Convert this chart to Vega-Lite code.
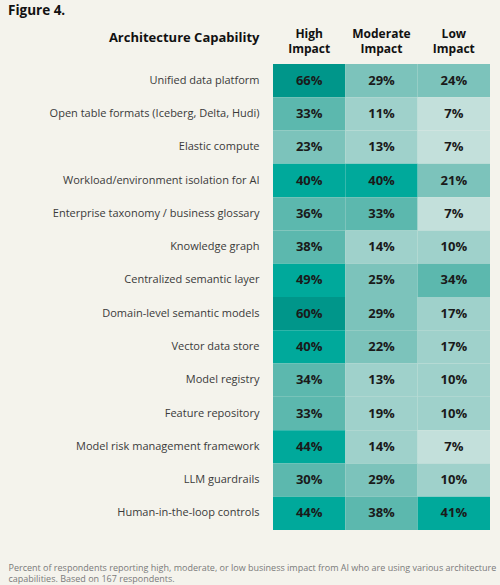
{
  "$schema": "https://vega.github.io/schema/vega-lite/v6.json",
  "width": 217,
  "height": 466,
  "autosize": {"type": "none"},
  "padding": {"left": 273, "top": 64, "right": 10, "bottom": 55},
  "background": "#f4f3ec",
  "config": {
    "font": "Open Sans",
    "view": {"stroke": null}
  },
  "title": {
    "text": "Figure 4.",
    "anchor": "start",
    "frame": "group",
    "dx": -265,
    "offset": 10,
    "fontSize": 13.5,
    "fontWeight": "bold",
    "color": "#111111"
  },
  "data": {
    "values": [
      {"capability": "Unified data platform", "impact": "High Impact", "share": 0.66},
      {"capability": "Unified data platform", "impact": "Moderate Impact", "share": 0.29},
      {"capability": "Unified data platform", "impact": "Low Impact", "share": 0.24},
      {"capability": "Open table formats (Iceberg, Delta, Hudi)", "impact": "High Impact", "share": 0.33},
      {"capability": "Open table formats (Iceberg, Delta, Hudi)", "impact": "Moderate Impact", "share": 0.11},
      {"capability": "Open table formats (Iceberg, Delta, Hudi)", "impact": "Low Impact", "share": 0.07},
      {"capability": "Elastic compute", "impact": "High Impact", "share": 0.23},
      {"capability": "Elastic compute", "impact": "Moderate Impact", "share": 0.13},
      {"capability": "Elastic compute", "impact": "Low Impact", "share": 0.07},
      {"capability": "Workload/environment isolation for AI", "impact": "High Impact", "share": 0.40},
      {"capability": "Workload/environment isolation for AI", "impact": "Moderate Impact", "share": 0.40},
      {"capability": "Workload/environment isolation for AI", "impact": "Low Impact", "share": 0.21},
      {"capability": "Enterprise taxonomy / business glossary", "impact": "High Impact", "share": 0.36},
      {"capability": "Enterprise taxonomy / business glossary", "impact": "Moderate Impact", "share": 0.33},
      {"capability": "Enterprise taxonomy / business glossary", "impact": "Low Impact", "share": 0.07},
      {"capability": "Knowledge graph", "impact": "High Impact", "share": 0.38},
      {"capability": "Knowledge graph", "impact": "Moderate Impact", "share": 0.14},
      {"capability": "Knowledge graph", "impact": "Low Impact", "share": 0.10},
      {"capability": "Centralized semantic layer", "impact": "High Impact", "share": 0.49},
      {"capability": "Centralized semantic layer", "impact": "Moderate Impact", "share": 0.25},
      {"capability": "Centralized semantic layer", "impact": "Low Impact", "share": 0.34},
      {"capability": "Domain-level semantic models", "impact": "High Impact", "share": 0.60},
      {"capability": "Domain-level semantic models", "impact": "Moderate Impact", "share": 0.29},
      {"capability": "Domain-level semantic models", "impact": "Low Impact", "share": 0.17},
      {"capability": "Vector data store", "impact": "High Impact", "share": 0.40},
      {"capability": "Vector data store", "impact": "Moderate Impact", "share": 0.22},
      {"capability": "Vector data store", "impact": "Low Impact", "share": 0.17},
      {"capability": "Model registry", "impact": "High Impact", "share": 0.34},
      {"capability": "Model registry", "impact": "Moderate Impact", "share": 0.13},
      {"capability": "Model registry", "impact": "Low Impact", "share": 0.10},
      {"capability": "Feature repository", "impact": "High Impact", "share": 0.33},
      {"capability": "Feature repository", "impact": "Moderate Impact", "share": 0.19},
      {"capability": "Feature repository", "impact": "Low Impact", "share": 0.10},
      {"capability": "Model risk management framework", "impact": "High Impact", "share": 0.44},
      {"capability": "Model risk management framework", "impact": "Moderate Impact", "share": 0.14},
      {"capability": "Model risk management framework", "impact": "Low Impact", "share": 0.07},
      {"capability": "LLM guardrails", "impact": "High Impact", "share": 0.30},
      {"capability": "LLM guardrails", "impact": "Moderate Impact", "share": 0.29},
      {"capability": "LLM guardrails", "impact": "Low Impact", "share": 0.10},
      {"capability": "Human-in-the-loop controls", "impact": "High Impact", "share": 0.44},
      {"capability": "Human-in-the-loop controls", "impact": "Moderate Impact", "share": 0.38},
      {"capability": "Human-in-the-loop controls", "impact": "Low Impact", "share": 0.41}
    ]
  },
  "encoding": {
    "x": {
      "field": "impact",
      "type": "nominal",
      "sort": ["High Impact", "Moderate Impact", "Low Impact"],
      "scale": {"paddingInner": 0, "paddingOuter": 0}
    },
    "y": {
      "field": "capability",
      "type": "nominal",
      "sort": null,
      "scale": {"paddingInner": 0, "paddingOuter": 0},
      "axis": {
        "title": "Architecture Capability",
        "titleAngle": 0,
        "titleAlign": "right",
        "titleBaseline": "middle",
        "titleX": -14,
        "titleY": -27,
        "titleFontSize": 13,
        "titleFontWeight": "bold",
        "titleColor": "#111111",
        "labelFontSize": 11,
        "labelColor": "#3a3a3a",
        "labelPadding": 14,
        "labelLimit": 0,
        "ticks": false,
        "domain": false
      }
    }
  },
  "layer": [
    {
      "mark": {"type": "rect"},
      "encoding": {
        "x": {
          "field": "impact",
          "type": "nominal",
          "sort": ["High Impact", "Moderate Impact", "Low Impact"],
          "axis": {
            "orient": "top",
            "title": null,
            "labelAngle": 0,
            "labelExpr": "split(datum.label, ' ')",
            "labelFontSize": 12,
            "labelFontWeight": "bold",
            "labelColor": "#111111",
            "labelLineHeight": 15,
            "labelPadding": 24,
            "ticks": false,
            "domain": false
          }
        },
        "color": {
          "field": "share",
          "type": "quantitative",
          "scale": {
            "type": "threshold",
            "domain": [0.1, 0.2, 0.3, 0.4, 0.5],
            "range": ["#c3e0db", "#9fd1cb", "#7cc3bb", "#5cb8ae", "#00a99b", "#00968a"]
          },
          "legend": null
        }
      }
    },
    {
      "mark": {"type": "text", "fontSize": 13, "fontWeight": "bold", "color": "#1a1a1a"},
      "encoding": {
        "x": {
          "field": "impact",
          "type": "nominal",
          "sort": ["High Impact", "Moderate Impact", "Low Impact"],
          "axis": {
            "orient": "bottom",
            "labels": false,
            "ticks": false,
            "domain": false,
            "title": [
              "Percent of respondents reporting high, moderate, or low business impact from AI who are using various architecture",
              "capabilities. Based on 167 respondents."
            ],
            "titleX": -265,
            "titleY": 33,
            "titleAlign": "left",
            "titleBaseline": "top",
            "titleFontSize": 9,
            "titleFontWeight": "normal",
            "titleColor": "#7a7a7a",
            "titleLineHeight": 11.5
          }
        },
        "text": {"field": "share", "type": "quantitative", "format": ".0%"}
      }
    }
  ],
  "resolve": {"axis": {"x": "independent"}}
}
